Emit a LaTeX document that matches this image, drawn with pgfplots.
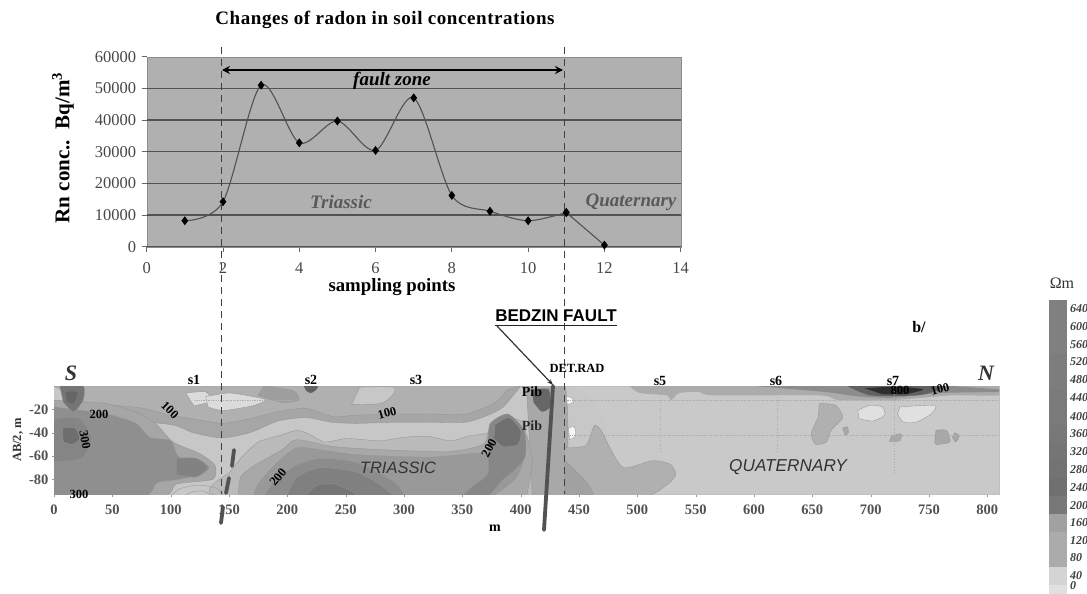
\documentclass[border=0pt]{standalone}
\usepackage{fontspec}
\setmainfont{Liberation Serif}
\newfontfamily\arial{Liberation Sans}
\newfontfamily\titlefont[LetterSpace=3]{Liberation Serif}
\usepackage{pgfplots}
\pgfplotsset{compat=1.18}
\usetikzlibrary{arrows.meta}
\pgfplotsset{reg/.style={fill=#1, draw=black!42, line width=.35pt, smooth, tension=.4, no markers, forget plot}}
\pgfplotsset{gridl/.style={black!68, line width=1.3pt, forget plot}}
\newcommand{\fs}[1]{\fontsize{#1}{#1}\selectfont}
\begin{document}
\begin{tikzpicture}[x=1pt,y=-1pt]
\useasboundingbox (0,0) rectangle (1087,594);

% radon curve
\begin{axis}[
  at={(146.7pt,-246.7pt)}, anchor=south west, scale only axis,
  width=534pt, height=190pt,
  xmin=0, xmax=14, ymin=0, ymax=60000,
  xtick={0,2,...,14}, ytick={0,10000,...,60000},
  xtick pos=bottom, ytick pos=left,
  scaled ticks=false,
  /pgf/number format/assume math mode=true,
  /pgf/number format/1000 sep={},
  tick label style={font=\fs{16.5}, text=black!72},
  tick align=outside, tick style={black!60, line width=.8pt},
  major tick length=5pt,
  xticklabel style={yshift=-7pt},
  yticklabel style={xshift=-2pt},
  axis line style={black!45},
  axis background/.style={fill=black!31},
  clip=false,
]
\addplot[gridl] coordinates {(0,0)(14,0)};
\addplot[gridl] coordinates {(0,10000)(14,10000)};
\addplot[gridl] coordinates {(0,20000)(14,20000)};
\addplot[gridl] coordinates {(0,30000)(14,30000)};
\addplot[gridl] coordinates {(0,40000)(14,40000)};
\addplot[gridl] coordinates {(0,50000)(14,50000)};
\addplot[black!68, line width=1.1pt, smooth, tension=.5, mark=diamond*, mark size=3.6pt,
  mark options={black, fill=black, solid}] coordinates {
  (1,8200)(2,14200)(3,51000)(4,32800)(5,39700)(6,30400)(7,47000)
  (8,16200)(9,11200)(10,8200)(11,10800)};
\addplot[black!68, line width=1.1pt, mark=diamond*, mark size=3.6pt,
  mark options={black, fill=black, solid}] coordinates {(11,10800)(12,500)};
\end{axis}

% resistivity section
\begin{axis}[
  at={(54pt,-494.5pt)}, anchor=south west, scale only axis,
  width=945pt, height=108.5pt,
  xmin=0, xmax=810, ymin=-93, ymax=0,
  xtick={0,50,...,800}, ytick={-80,-60,-40,-20},
  xtick pos=bottom, ytick pos=left,
  /pgf/number format/assume math mode=true,
  tick label style={font=\bfseries\fs{14.5}, text=black!68},
  tick align=outside, tick style={black!40},
  major tick length=2pt,
  xticklabel style={yshift=-5pt},
  axis line style={black!25},
  axis background/.style={fill=black!21},
]
\addplot[reg=black!22, draw=none] coordinates {(0,0)(438,0)(438,-95)(0,-95)} -- cycle;
\addplot[reg=black!35] coordinates {(20,0)(30,-25)(100,-33)(119,-40)(144,-44.5)(168,-40)(192,-30)(216,-27)(238,-31)(260,-32)(291,-31)(322,-31)(353,-31)(372,-25)(385,-18)(400,0)} -- cycle;
\addplot[reg=black!31] coordinates {(0,0)(30,-15)(45,-16)(76,-19)(100,-25)(119,-28)(144,-32)(168,-28)(192,-22)(216,-19)(238,-26)(260,-25)(291,-24)(322,-24)(353,-24)(377,-15)(389,-3.5)(401,0)} -- cycle;
\addplot[reg=black!27] coordinates {(160,-62)(175,-48)(195,-42)(208,-38)(218,-41)(232,-48)(250,-45)(265,-46)(280,-47)(300,-44)(320,-43)(340,-47)(355,-43)(372,-40)(380,-30)(400,-30)(410,-60)(415,-95)(145,-95)(150,-75)} -- cycle;
\addplot[reg=black!34] coordinates {(405,0)(438,0)(438,-95)(410,-95)} -- cycle;
% left block
\addplot[reg=black!35] coordinates {(0,-12)(28,-14)(45,-15)(72,-23)(88,-33)(102,-48)(125,-58)(138,-68)(136,-80)(105,-84)(92,-95)(0,-95)} -- cycle;
\addplot[reg=black!44] coordinates {(0,-18)(45,-24)(70,-32)(82,-44)(100,-47)(107,-61)(125,-64)(133,-70)(125,-76)(107,-80)(88,-83)(76,-95)(0,-95)} -- cycle;
\addplot[reg=black!49] coordinates {(105,-62)(122,-62)(132,-70)(122,-78)(105,-76)} -- cycle;
\addplot[reg=black!48] coordinates {(0,-28)(22,-28)(32,-45)(24,-62)(0,-65)} -- cycle;
\addplot[reg=black!57] coordinates {(7,-36)(18,-36)(22,-45)(16,-50)(8,-48)} -- cycle;
\addplot[reg=black!54] coordinates {(5,0)(25,0)(25,-12)(17,-22)(8,-14)} -- cycle;
\addplot[reg=black!60, draw=none] coordinates {(10,-5)(20,-5)(17,-15)(11,-13)} -- cycle;
% light arcs at the bottom near s1
\addplot[black!42, line width=.35pt, smooth, forget plot] coordinates {(100,-95)(108,-88)(125,-85)(140,-88)(146,-95)};
\addplot[black!42, line width=.35pt, smooth, forget plot] coordinates {(110,-95)(118,-91)(128,-90)(136,-95)};
% light patches near s1
\addplot[reg=black!14] coordinates {(113,-6)(130,-5)(135,-13)(120,-17)} -- cycle;
\addplot[reg=black!14] coordinates {(130,-9)(150,-6)(170,-9)(182,-12)(170,-17)(145,-21)(132,-18)} -- cycle;
\addplot[reg=black!22] coordinates {(262,-1)(291,-1)(290,-8)(280,-15)(255,-16)} -- cycle;
\addplot[reg=black!38] coordinates {(180,0)(205,-4)(210,-12)(195,-14)(175,-8)} -- cycle;
\addplot[reg=black!62, draw=none] coordinates {(214,0)(226,0)(224,-4)(220,-6)(216,-4)} -- cycle;
% middle block
\addplot[reg=black!34] coordinates {(158,-95)(160,-78)(172,-68)(195,-55)(208,-46)(240,-52)(290,-55)(340,-56)(368,-50)(375,-35)(400,-35)(410,-62)(405,-95)} -- cycle;
\addplot[reg=black!40] coordinates {(171,-95)(175,-84)(190,-67)(208,-53)(230,-55)(260,-59)(322,-61)(370,-57)(385,-60)(400,-55)(403,-62)(395,-80)(375,-95)} -- cycle;
\addplot[reg=black!45] coordinates {(180,-95)(190,-80)(208,-68)(229,-62)(260,-66)(291,-82)(301,-95)} -- cycle;
\addplot[reg=black!50] coordinates {(199,-95)(208,-78)(229,-70)(260,-74)(280,-85)(292,-95)} -- cycle;
\addplot[reg=black!54] coordinates {(215,-95)(225,-85)(240,-84)(255,-90)(260,-95)} -- cycle;
\addplot[reg=black!47] coordinates {(349,-95)(360,-85)(372,-75)(372,-50)(374,-32)(389,-24)(403,-38)(404,-60)(395,-72)(385,-80)(372,-95)} -- cycle;
\addplot[reg=black!56] coordinates {(378,-33)(390,-27)(400,-38)(398,-50)(385,-52)(377,-45)} -- cycle;
\addplot[reg=black!60, draw=none] coordinates {(410,-3)(424,-3)(425,-18)(418,-22)(411,-14)} -- cycle;
% quaternary side
\addplot[reg=black!31] coordinates {(438,-53)(456,-51)(463,-34)(469,-38)(475,-50)(488,-70)(513,-64)(528,-67)(533,-76)(525,-85)(505,-95)(438,-95)} -- cycle;
\addplot[reg=black!37] coordinates {(438,-64)(456,-82)(462,-95)(438,-95)} -- cycle;
\addplot[reg=black!31] coordinates {(656,-15)(670,-16.5)(676,-27)(666,-38)(662,-48)(653,-50)(649,-41)(655,-27)} -- cycle;
\addplot[reg=black!33, draw=none] coordinates {(493,0)(502,-6)(525,-8)(529,-12)(536,-6)(553,-5)(565,-8)(656,-8)(673,-12)(719,-12)(770,-8)(810,-8)(810,0)} -- cycle;
\addplot[reg=black!45, draw=none] coordinates {(600,0)(660,-5)(690,-9)(720,-10)(760,-6)(810,-5)(810,-3)(770,0)} -- cycle;
\addplot[reg=black!62, draw=none] coordinates {(680,0)(700,-8)(740,-8)(760,-3)(760,0)} -- cycle;
\addplot[reg=black!82, draw=none] coordinates {(695,-2)(710,-1)(730,-1)(745,-3)(730,-7)(710,-7)} -- cycle;
\addplot[reg=black!12] coordinates {(689,-21)(699,-16.5)(710,-18)(712,-25)(702,-30)(690,-28)} -- cycle;
\addplot[reg=black!12] coordinates {(725,-18)(755,-16.5)(752,-24)(739,-31)(728,-31)(723,-24)} -- cycle;
\addplot[reg=black!34] coordinates {(756,-38)(765,-38)(768,-48)(756,-50)(755,-45.5)} -- cycle;
\addplot[reg=black!34] coordinates {(718,-42.6)(726,-41)(725,-47)(716,-47.5)} -- cycle;
\addplot[reg=black!34] coordinates {(772,-40)(776,-42.6)(773,-48)(770,-44)} -- cycle;
\addplot[reg=black!34] coordinates {(676,-36)(680,-35)(681,-40)(678,-42)} -- cycle;
\addplot[reg=black!4] coordinates {(439,-9)(444,-10)(445,-14)(440,-16)} -- cycle;
\addplot[reg=black!4] coordinates {(441,-36)(446,-35)(447,-43)(442,-46)} -- cycle;
% measuring lines
\addplot[black!32, densely dotted, line width=.7pt, forget plot] coordinates {(438,-12)(810,-12)};
\addplot[black!32, densely dotted, line width=.7pt, forget plot] coordinates {(438,-42)(810,-42)};
\addplot[black!32, densely dotted, line width=.7pt, forget plot] coordinates {(120,-12)(205,-12)};
\addplot[black!32, dotted, line width=.7pt, forget plot] coordinates {(520,0)(520,-56)};
\addplot[black!32, dotted, line width=.7pt, forget plot] coordinates {(620,0)(620,-56)};
\addplot[black!32, dotted, line width=.7pt, forget plot] coordinates {(720,0)(720,-75)};
\end{axis}

% scale bar
\begin{axis}[
  at={(1049pt,-594pt)}, anchor=south west, scale only axis,
  width=18pt, height=294pt,
  xmin=0, xmax=1, ymin=-1, ymax=663,
  axis lines=none, clip=true,
]
\addplot[fill=black!12, draw=none, forget plot] coordinates {(0,-1)(1,-1)(1,20)(0,20)} -- cycle;
\addplot[fill=black!17, draw=none, forget plot] coordinates {(0,20)(1,20)(1,60)(0,60)} -- cycle;
\addplot[fill=black!33, draw=none, forget plot] coordinates {(0,60)(1,60)(1,100)(0,100)} -- cycle;
\addplot[fill=black!33, draw=none, forget plot] coordinates {(0,100)(1,100)(1,140)(0,140)} -- cycle;
\addplot[fill=black!37, draw=none, forget plot] coordinates {(0,140)(1,140)(1,180)(0,180)} -- cycle;
\addplot[fill=black!53, draw=none, forget plot] coordinates {(0,180)(1,180)(1,220)(0,220)} -- cycle;
\addplot[fill=black!56, draw=none, forget plot] coordinates {(0,220)(1,220)(1,260)(0,260)} -- cycle;
\addplot[fill=black!55, draw=none, forget plot] coordinates {(0,260)(1,260)(1,300)(0,300)} -- cycle;
\addplot[fill=black!54, draw=none, forget plot] coordinates {(0,300)(1,300)(1,340)(0,340)} -- cycle;
\addplot[fill=black!53, draw=none, forget plot] coordinates {(0,340)(1,340)(1,380)(0,380)} -- cycle;
\addplot[fill=black!52, draw=none, forget plot] coordinates {(0,380)(1,380)(1,420)(0,420)} -- cycle;
\addplot[fill=black!52, draw=none, forget plot] coordinates {(0,420)(1,420)(1,460)(0,460)} -- cycle;
\addplot[fill=black!51, draw=none, forget plot] coordinates {(0,460)(1,460)(1,500)(0,500)} -- cycle;
\addplot[fill=black!51, draw=none, forget plot] coordinates {(0,500)(1,500)(1,540)(0,540)} -- cycle;
\addplot[fill=black!50, draw=none, forget plot] coordinates {(0,540)(1,540)(1,580)(0,580)} -- cycle;
\addplot[fill=black!50, draw=none, forget plot] coordinates {(0,580)(1,580)(1,663)(0,663)} -- cycle;
\end{axis}

% labels
\node[font=\titlefont\bfseries\fs{19}] at (385,20) {Changes of radon in soil concentrations};
\node[font=\bfseries\fs{21}, rotate=90] at (63,148) {Rn conc..\ \ Bq/m\textsuperscript{3}};
\node[font=\bfseries\fs{18.8}] at (392,287) {sampling points};
\node[font=\bfseries\itshape\fs{19}] at (392,81) {fault zone};
\node[font=\bfseries\itshape\fs{19}, text=black!65] at (341,202) {Triassic};
\node[font=\bfseries\itshape\fs{19}, text=black!65] at (631,202) {Quaternary};
\draw[{Stealth[length=8pt,width=8pt]}-{Stealth[length=8pt,width=8pt]}, black, line width=1.8pt] (222,70) -- (563,70);

\draw[black!75, line width=1pt, dash pattern=on 7pt off 5pt] (221.5,47) -- (221.5,494);
\draw[black!75, line width=1pt, dash pattern=on 7pt off 5pt] (564.5,47) -- (564.5,494);

\node[font=\arial\bfseries\fs{17}] at (556,316) {BEDZIN FAULT};
\draw[black!85, line width=1.1pt] (495,325.5) -- (617,325.5);
\draw[black!80, line width=1.2pt, -{Stealth[length=6pt]}] (497,326) -- (553,385);
\draw[black!68, line width=3.8pt, line cap=round] (553,386) -- (544,530);
\draw[black!68, line width=3.8pt, line cap=round] (234,450) -- (232,466);
\draw[black!68, line width=3.8pt, line cap=round] (229,478) -- (226,493);
\draw[black!68, line width=3.8pt, line cap=round] (223,507) -- (221,523);

\node[font=\bfseries\itshape\fs{22}, text=black!80] at (71,373) {S};
\node[font=\bfseries\itshape\fs{22}, text=black!80] at (986,373) {N};
\node[font=\bfseries\fs{14}] at (194,380) {s1};
\node[font=\bfseries\fs{14}] at (311,380) {s2};
\node[font=\bfseries\fs{14}] at (416,380) {s3};
\node[font=\bfseries\fs{14}] at (660,381) {s5};
\node[font=\bfseries\fs{14}] at (776,381) {s6};
\node[font=\bfseries\fs{14}] at (893,381) {s7};
\node[font=\bfseries\fs{12.5}] at (577,368) {DET.RAD};
\node[font=\bfseries\fs{16}] at (919,327) {b/};
\node[font=\bfseries\fs{14}] at (495,528) {m};
\node[font=\bfseries\fs{12.5}, rotate=90, text=black!80] at (18,440) {AB/2, m};
\node[font=\bfseries\fs{14}] at (532,392) {Pib};
\node[font=\bfseries\fs{14}, text=black!85] at (532,426) {Pib};
\node[font=\bfseries\fs{12.5}] at (99,414) {200};
\node[font=\bfseries\fs{12.5}, rotate=-80] at (85,440) {300};
\node[font=\bfseries\fs{12.5}, rotate=-45] at (170,410) {100};
\node[font=\bfseries\fs{12.5}] at (79,494) {300};
\node[font=\bfseries\fs{12.5}, rotate=50] at (278,477) {200};
\node[font=\bfseries\fs{12.5}, rotate=15] at (387,413) {100};
\node[font=\bfseries\fs{12.5}, rotate=62] at (489,448) {200};
\node[font=\bfseries\fs{12.5}, rotate=15] at (940,389) {100};
\node[font=\bfseries\fs{12.5}, text=black] at (900,390) {800};
\node[font=\arial\itshape\fs{16.5}, text=black!80] at (398,468) {TRIASSIC};
\node[font=\arial\itshape\fs{17.2}, text=black!80] at (788,467) {QUATERNARY};

\node[font=\fs{16}, text=black!80] at (1062,283) {Ωm};
\foreach \v/\yy in {640/309,600/327,560/345,520/362,480/380,440/398,400/417,360/434,320/452,280/470,240/488,200/506,160/523,120/541,80/558,40/576,0/586}
  \node[font=\bfseries\itshape\fs{12}, anchor=west, inner xsep=0pt, text=black!75] at (1070,\yy) {\v};
\end{tikzpicture}
\end{document}
